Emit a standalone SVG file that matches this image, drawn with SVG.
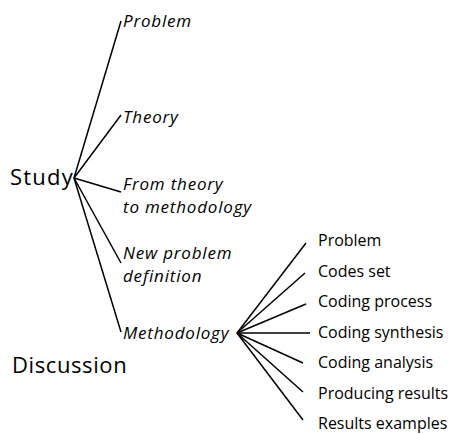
<svg xmlns="http://www.w3.org/2000/svg" width="450" height="434" viewBox="0 0 450 434">
<style>
  .root { font-family: "Open Sans", Lato, sans-serif; font-size: 22px; fill: #000; }
  .mid { font-family: "Open Sans", Lato, sans-serif; font-size: 17px; font-style: italic; letter-spacing: 0.8px; fill: #000; }
  .leaf { font-family: "Open Sans", Lato, sans-serif; font-size: 16px; fill: #000; }
  .edge { stroke: #000; stroke-width: 1.5; fill: none; }
</style>
<rect width="450" height="434" fill="#fff"/>
<g id="connectors">
  <line class="edge" x1="74" y1="178" x2="121" y2="21"/>
  <line class="edge" x1="74" y1="178" x2="121" y2="115"/>
  <line class="edge" x1="74" y1="178" x2="121" y2="192"/>
  <line class="edge" x1="74" y1="178" x2="121" y2="263"/>
  <line class="edge" x1="74" y1="178" x2="121" y2="332"/>
  <line class="edge" x1="237" y1="333" x2="306" y2="243"/>
  <line class="edge" x1="237" y1="333" x2="305" y2="273"/>
  <line class="edge" x1="237" y1="333" x2="306" y2="304"/>
  <line class="edge" x1="237" y1="333" x2="310" y2="333"/>
  <line class="edge" x1="237" y1="333" x2="303" y2="363"/>
  <line class="edge" x1="237" y1="333" x2="303" y2="392"/>
  <line class="edge" x1="237" y1="333" x2="303" y2="420"/>
</g>
<g id="study"><text class="root" x="10" y="185" letter-spacing="1.2">Study</text></g>
<g id="discussion"><text class="root" x="12" y="373" letter-spacing="0.6">Discussion</text></g>
<g id="problem"><text class="mid" x="123" y="27">Problem</text></g>
<g id="theory"><text class="mid" x="123" y="123">Theory</text></g>
<g id="from-theory"><text class="mid" x="123" y="190">From theory</text><text class="mid" x="123" y="213">to methodology</text></g>
<g id="new-problem"><text class="mid" x="123" y="259">New problem</text><text class="mid" x="123" y="282">definition</text></g>
<g id="methodology"><text class="mid" x="123" y="339">Methodology</text></g>
<g id="m-problem"><text class="leaf" x="318" y="246">Problem</text></g>
<g id="m-codes-set"><text class="leaf" x="318" y="277">Codes set</text></g>
<g id="m-coding-process"><text class="leaf" x="318" y="307">Coding process</text></g>
<g id="m-coding-synthesis"><text class="leaf" x="318" y="338">Coding synthesis</text></g>
<g id="m-coding-analysis"><text class="leaf" x="318" y="368">Coding analysis</text></g>
<g id="m-producing-results"><text class="leaf" x="318" y="399">Producing results</text></g>
<g id="m-results-examples"><text class="leaf" x="318" y="429">Results examples</text></g>
</svg>
